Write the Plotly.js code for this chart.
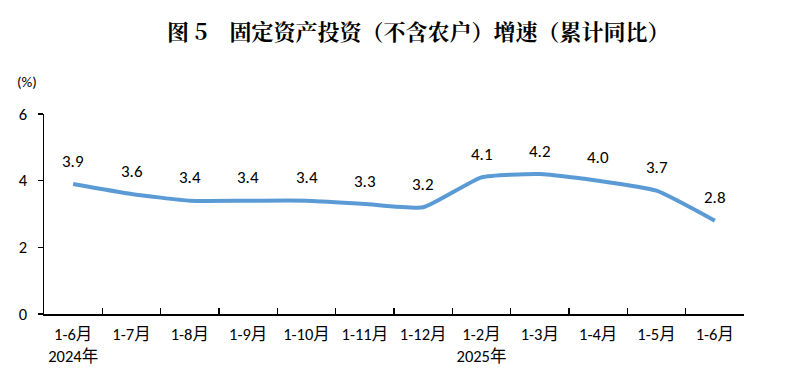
<!DOCTYPE html>
<html><head><meta charset="utf-8">
<script src="https://cdn.plot.ly/plotly-3.0.1.min.js"></script>
<style>body{margin:0;background:#fff}#c{width:789px;height:388px}</style>
</head><body><div id="c"></div>
<script>
const categories = ["1-6月","1-7月","1-8月","1-9月","1-10月","1-11月","1-12月","1-2月","1-3月","1-4月","1-5月","1-6月"];
const tickLabels = ["1-6月<br>2024年","1-7月","1-8月","1-9月","1-10月","1-11月","1-12月","1-2月<br>2025年","1-3月","1-4月","1-5月","1-6月"];
const values = [3.9,3.6,3.4,3.4,3.4,3.3,3.2,4.1,4.2,4.0,3.7,2.8];
const valueLabels = ["3.9","3.6","3.4","3.4","3.4","3.3","3.2","4.1","4.2","4.0","3.7","2.8"];
const xIdx = categories.map((_, i) => i);

const font = "Carlito, 'Open Sans', 'Noto Sans CJK SC', sans-serif";
const trace = {
  x: xIdx, y: values, type: 'scatter', mode: 'lines',
  line: {color: '#5B9BD5', width: 4, shape: 'spline', smoothing: 0.45},
  hoverinfo: 'none'
};
const ann = xIdx.map((x, i) => ({
  x: x, y: values[i], xref: 'x', yref: 'y', text: valueLabels[i], showarrow: false,
  yshift: 23, font: {family: font, size: 17, color: '#000'}
}));
ann.push({x: 0, y: 0, xref: 'paper', yref: 'paper', text: '(%)', showarrow: false,
  xanchor: 'center', yanchor: 'middle',
  font: {family: font, size: 15, color: '#000'}});
const layout = {
  width: 789, height: 388,
  margin: {l: 44, r: 45, t: 114, b: 74},
  paper_bgcolor: '#fff', plot_bgcolor: '#fff',
  showlegend: false,
  title: {text: '<b>图 5　固定资产投资（不含农户）增速（累计同比）</b>', x: 0.53, xanchor: 'center', y: 0.917, yanchor: 'middle',
    font: {family: "'Noto Serif CJK SC', 'Noto Sans CJK SC', serif", size: 22, color: '#000'}},
  xaxis: {
    type: 'linear', range: [-0.5, 11.5], tickmode: 'array', tickvals: xIdx, ticktext: tickLabels,
    showgrid: false, zeroline: false, showline: true, linecolor: '#000', linewidth: 1.5,
    ticks: '', tickfont: {family: font, size: 16.5, color: '#000'}, ticklabelstandoff: 5
  },
  xaxis2: {
    overlaying: 'x', matches: 'x', range: [-0.5, 11.5], tickmode: 'array',
    tickvals: [-0.5,0.5,1.5,2.5,3.5,4.5,5.5,6.5,7.5,8.5,9.5,10.5,11.5],
    showticklabels: false, ticks: 'inside', ticklen: 6, tickcolor: '#000', tickwidth: 1.2,
    showgrid: false, zeroline: false, showline: false, anchor: 'y'
  },
  yaxis: {
    range: [0, 6], tickvals: [0, 2, 4, 6], ticktext: ['0','2','4','6'],
    showgrid: false, zeroline: false, showline: true, linecolor: '#000', linewidth: 1.5,
    ticks: 'outside', ticklen: 5, tickcolor: '#000', tickwidth: 1.2,
    tickfont: {family: font, size: 16.5, color: '#000'}, ticklabelstandoff: 7
  },
  annotations: ann
};
const pw = 789 - 44 - 45, ph = 388 - 114 - 74;
const pct = ann[ann.length - 1];
pct.x = (27 - 44) / pw; pct.y = (388 - 74 - 82) / ph;
const tickTrace = {x: [0], y: [0], xaxis: 'x2', yaxis: 'y', mode: 'none', hoverinfo: 'none', showlegend: false};
Plotly.newPlot('c', [trace, tickTrace], layout, {staticPlot: true});
</script></body></html>
